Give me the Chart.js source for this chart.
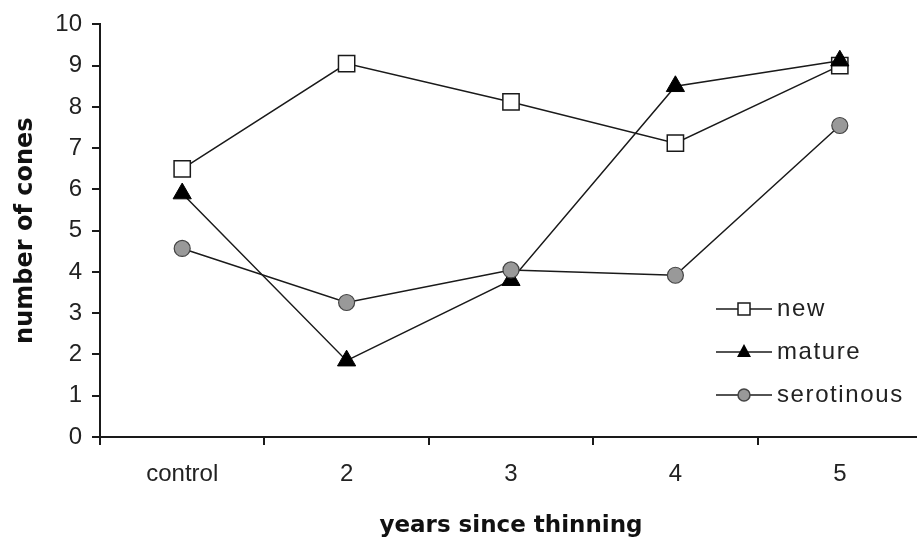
<!DOCTYPE html>
<html>
<head>
<meta charset="utf-8">
<script src="https://cdn.jsdelivr.net/npm/chart.js@4/dist/chart.umd.min.js"></script>
<style>
  html, body { margin: 0; padding: 0; background: #fff; overflow: hidden; }
  #wrap { width: 935px; height: 540px; position: relative; }
</style>
</head>
<body>
<div id="wrap"><canvas id="chart"></canvas></div>
<script>
  var CATEGORIES = ['control', '2', '3', '4', '5'];
  var NEW_CONES = [6.5, 9.05, 8.12, 7.12, 9.0];
  var MATURE_CONES = [5.9, 1.85, 3.8, 8.5, 9.12];
  var SEROTINOUS_CONES = [4.57, 3.26, 4.05, 3.92, 7.55];
  var Y_TICKS = [0, 1, 2, 3, 4, 5, 6, 7, 8, 9, 10];

  var INK = '#1a1a1a';
  var tickFont = { family: "'Liberation Sans', Arial, sans-serif", size: 24 };

  // legend sits inside the plot, drawn by hand like the original
  var insideLegend = {
    id: 'insideLegend',
    afterDatasetsDraw: function (chart) {
      var ctx = chart.ctx;
      var rows = [
        { label: 'new', shape: 'square', y: 309 },
        { label: 'mature', shape: 'triangle', y: 352 },
        { label: 'serotinous', shape: 'circle', y: 395 }
      ];
      ctx.save();
      rows.forEach(function (r) {
        ctx.strokeStyle = INK;
        ctx.lineWidth = 1.5;
        ctx.beginPath();
        ctx.moveTo(716, r.y);
        ctx.lineTo(772, r.y);
        ctx.stroke();
        var cx = 744;
        ctx.beginPath();
        if (r.shape === 'square') {
          ctx.fillStyle = '#fff';
          ctx.rect(cx - 6, r.y - 6, 12, 12);
          ctx.fill();
          ctx.stroke();
        } else if (r.shape === 'triangle') {
          ctx.fillStyle = '#000';
          ctx.moveTo(cx, r.y - 8);
          ctx.lineTo(cx + 7, r.y + 5);
          ctx.lineTo(cx - 7, r.y + 5);
          ctx.closePath();
          ctx.fill();
        } else {
          ctx.fillStyle = '#999';
          ctx.strokeStyle = '#444';
          ctx.arc(cx, r.y, 6, 0, Math.PI * 2);
          ctx.fill();
          ctx.stroke();
        }
        ctx.fillStyle = '#222';
        ctx.font = "24px 'Liberation Sans', Arial, sans-serif";
        ctx.letterSpacing = '1.6px';
        ctx.textBaseline = 'middle';
        ctx.textAlign = 'left';
        ctx.fillText(r.label, 777, r.y);
      });
      ctx.restore();
    }
  };

  new Chart(document.getElementById('chart'), {
    type: 'line',
    data: {
      labels: CATEGORIES,
      datasets: [
        {
          label: 'new', data: NEW_CONES, order: 2,
          borderColor: INK, borderWidth: 1.5,
          pointStyle: 'rect', pointRadius: 11.5, pointBackgroundColor: '#fff',
          pointBorderColor: INK, pointBorderWidth: 1.5
        },
        {
          label: 'mature', data: MATURE_CONES, order: 1,
          borderColor: INK, borderWidth: 1.5,
          pointStyle: 'triangle', pointRadius: 10.5, pointBackgroundColor: '#000',
          pointBorderColor: '#000', pointBorderWidth: 1
        },
        {
          label: 'serotinous', data: SEROTINOUS_CONES, order: 0,
          borderColor: INK, borderWidth: 1.5,
          pointStyle: 'circle', pointRadius: 8, pointBackgroundColor: '#999',
          pointBorderColor: '#444', pointBorderWidth: 1.2
        }
      ]
    },
    options: {
      responsive: true,
      maintainAspectRatio: false,
      animation: false,
      events: [],
      layout: { padding: { top: 8, right: 0, bottom: 0, left: 0 } },
      plugins: { legend: { display: false }, tooltip: { enabled: false } },
      scales: {
        x: {
          offset: true,
          grid: { offset: true, drawOnChartArea: false, drawTicks: true, tickLength: 8, color: INK, lineWidth: 2 },
          border: { color: INK, width: 2 },
          ticks: { color: '#222', font: tickFont, padding: 15, maxRotation: 0 },
          title: {
            display: true, text: 'years since thinning', color: '#111',
            font: { family: "'DejaVu Sans', sans-serif", size: 23, weight: 'bold' },
            padding: { top: 4, bottom: 0 }
          },
          afterFit: function (s) { s.height = 103; }
        },
        y: {
          min: 0, max: 10,
          afterBuildTicks: function (s) { s.ticks = Y_TICKS.map(function (v) { return { value: v }; }); },
          grid: { drawOnChartArea: false, drawTicks: true, tickLength: 8, color: INK, lineWidth: 2 },
          border: { color: INK, width: 2 },
          ticks: { color: '#222', font: tickFont, padding: 10 },
          title: {
            display: true, text: 'number of cones', color: '#111',
            font: { family: "'DejaVu Sans', sans-serif", size: 24, weight: 'bold' },
            padding: { top: 11, bottom: 0 }
          },
          afterFit: function (s) { s.width = 100; }
        }
      }
    },
    plugins: [insideLegend]
  });
</script>
</body>
</html>
